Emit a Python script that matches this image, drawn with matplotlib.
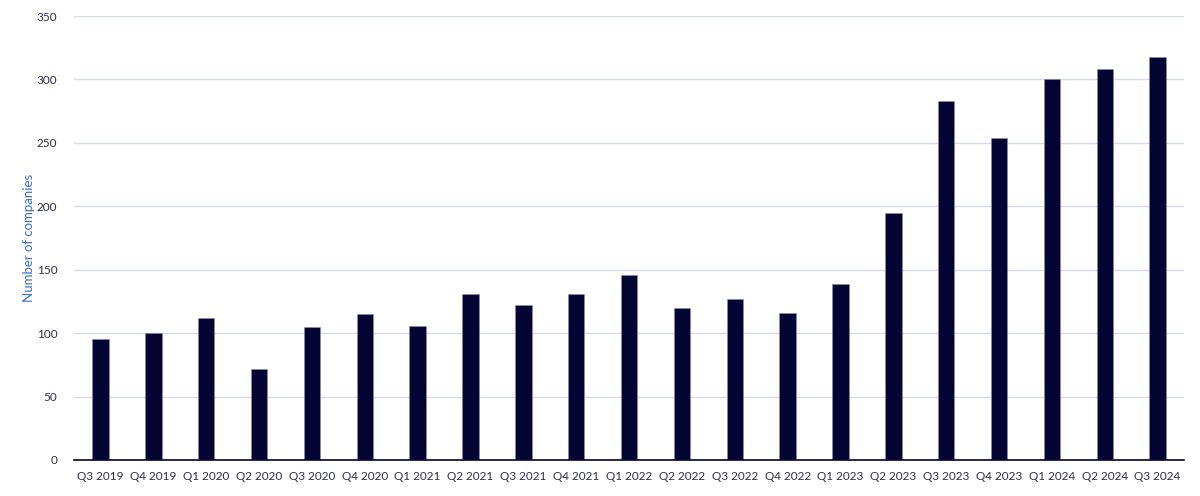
import matplotlib
matplotlib.use("Agg")
import matplotlib.pyplot as plt

quarters = ["Q3 2019", "Q4 2019", "Q1 2020", "Q2 2020", "Q3 2020", "Q4 2020",
            "Q1 2021", "Q2 2021", "Q3 2021", "Q4 2021", "Q1 2022", "Q2 2022",
            "Q3 2022", "Q4 2022", "Q1 2023", "Q2 2023", "Q3 2023", "Q4 2023",
            "Q1 2024", "Q2 2024", "Q3 2024"]
companies = [95, 100, 112, 72, 105, 115, 106, 131, 122, 131, 146, 120,
             127, 116, 139, 195, 283, 254, 300, 308, 318]
yticks = [0, 50, 100, 150, 200, 250, 300, 350]

plt.rcParams['font.family'] = ['Lato', 'DejaVu Sans']

fig = plt.figure(figsize=(12, 4.96), dpi=100)
ax = fig.add_axes([0.0617, 0.0726, 0.925, 0.8951])

x = list(range(len(quarters)))
ax.bar(x, companies, width=0.31, color="#050533", edgecolor="#8a8fb0",
       linewidth=0.4, zorder=3)

ax.set_xlim(-0.5, len(quarters) - 0.5)
ax.set_ylim(0, 350)
ax.set_yticks(yticks)
ax.set_xticks(x)
ax.set_xticklabels(quarters)
ax.grid(axis="y", color="#d5dbe8", linewidth=1.0, zorder=0)
ax.set_axisbelow(True)

for s in ["top", "right", "left"]:
    ax.spines[s].set_visible(False)
ax.spines["bottom"].set_color("#050533")
ax.spines["bottom"].set_linewidth(1.2)
ax.spines["bottom"].set_zorder(4)

ax.tick_params(axis="both", length=0, labelsize=8.5, labelcolor="#2d2d50")
ax.tick_params(axis="x", pad=8)
ax.tick_params(axis="y", pad=12)

ax.set_ylabel("Number of companies", color="#3a6fd0", fontsize=9.5, labelpad=1)

fig.savefig("out.png", dpi=100)
